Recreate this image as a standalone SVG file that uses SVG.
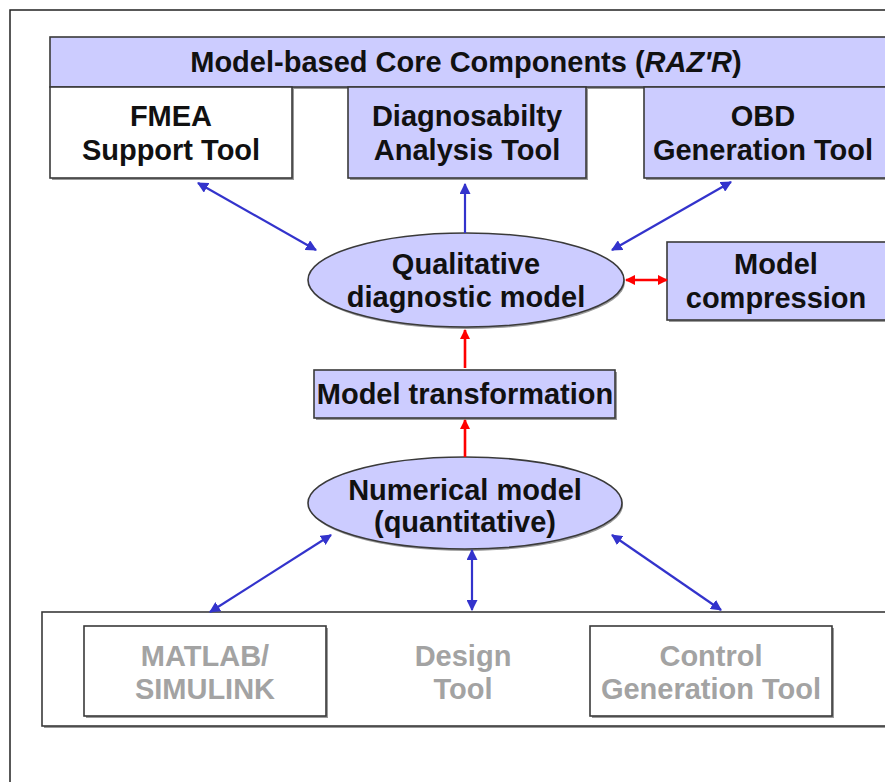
<svg xmlns="http://www.w3.org/2000/svg" width="885" height="782" viewBox="0 0 885 782">
  <defs>
    <style>
      .box { stroke: #3a3a3a; stroke-width: 1.6; }
      .lav { fill: #ccccff; }
      .wht { fill: #ffffff; }
      .shadow { fill: #9a9a9a; }
      .t { font-family: "Liberation Sans", Arial, sans-serif; font-weight: bold; font-size: 29px; fill: #111111; text-anchor: middle; }
      .g { fill: #a3a3a3; }
      .blue { stroke: #3333cc; stroke-width: 2.2; fill: none; }
      .red { stroke: #ff0000; stroke-width: 2.6; fill: none; }
    </style>
    <marker id="hb" viewBox="0 0 10 10" refX="9" refY="5" markerWidth="5" markerHeight="5" orient="auto-start-reverse" markerUnits="strokeWidth">
      <path d="M0,0 L10,5 L0,10 z" fill="#3333cc"/>
    </marker>
    <marker id="hr" viewBox="0 0 10 10" refX="9" refY="5" markerWidth="4" markerHeight="4" orient="auto-start-reverse" markerUnits="strokeWidth">
      <path d="M0,0 L10,5 L0,10 z" fill="#ff0000"/>
    </marker>
  </defs>

  <rect x="0" y="0" width="885" height="782" fill="#ffffff"/>
  <!-- outer frame -->
  <rect x="10" y="10" width="890" height="790" fill="none" stroke="#222222" stroke-width="1.5"/>

  <!-- top bar: core components -->
  <g id="core">
    <rect class="shadow" x="52" y="39" width="840" height="50"/>
    <rect class="box lav" x="50" y="37" width="840" height="50"/>
    <text class="t" x="466" y="72">Model-based Core Components (<tspan font-style="italic">RAZ'R</tspan>)</text>
  </g>

  <g id="fmea">
    <rect class="shadow" x="52" y="89" width="242" height="91"/>
    <rect class="box wht" x="50" y="87" width="242" height="91"/>
    <text class="t" x="171" y="126">FMEA</text>
    <text class="t" x="171" y="160">Support Tool</text>
  </g>

  <g id="diag">
    <rect class="shadow" x="350" y="89" width="238" height="91"/>
    <rect class="box lav" x="348" y="87" width="238" height="91"/>
    <text class="t" x="467" y="126">Diagnosabilty</text>
    <text class="t" x="467" y="160">Analysis Tool</text>
  </g>

  <g id="obd">
    <rect class="shadow" x="646" y="89" width="250" height="91"/>
    <rect class="box lav" x="644" y="87" width="250" height="91"/>
    <text class="t" x="763" y="126">OBD</text>
    <text class="t" x="763" y="160">Generation Tool</text>
  </g>

  <g id="qualitative">
    <ellipse class="shadow" cx="467" cy="282" rx="158" ry="47"/>
    <ellipse class="box lav" cx="466" cy="280" rx="158" ry="47"/>
    <text class="t" x="466" y="274">Qualitative</text>
    <text class="t" x="466" y="307">diagnostic model</text>
  </g>

  <g id="compression">
    <rect class="shadow" x="669" y="244" width="230" height="78"/>
    <rect class="box lav" x="667" y="242" width="230" height="78"/>
    <text class="t" x="776" y="274">Model</text>
    <text class="t" x="776" y="308">compression</text>
  </g>

  <g id="transformation">
    <rect class="shadow" x="316" y="372" width="301" height="48"/>
    <rect class="box lav" x="314" y="370" width="301" height="48"/>
    <text class="t" x="465" y="404">Model transformation</text>
  </g>

  <g id="numerical">
    <ellipse class="shadow" cx="466" cy="505" rx="157" ry="46"/>
    <ellipse class="box lav" cx="465" cy="503" rx="157" ry="46"/>
    <text class="t" x="465" y="500">Numerical model</text>
    <text class="t" x="465" y="532">(quantitative)</text>
  </g>

  <g id="tools">
    <rect class="shadow" x="44" y="614" width="850" height="114"/>
    <rect class="box wht" x="42" y="612" width="850" height="114"/>
    <g id="matlab">
      <rect class="shadow" x="86" y="628" width="242" height="90"/>
      <rect class="box wht" x="84" y="626" width="242" height="90"/>
      <text class="t g" x="205" y="666">MATLAB/</text>
      <text class="t g" x="205" y="699">SIMULINK</text>
    </g>
    <g id="design">
      <text class="t g" x="463" y="666">Design</text>
      <text class="t g" x="463" y="699">Tool</text>
    </g>
    <g id="control">
      <rect class="shadow" x="592" y="628" width="242" height="90"/>
      <rect class="box wht" x="590" y="626" width="242" height="90"/>
      <text class="t g" x="711" y="666">Control</text>
      <text class="t g" x="711" y="699">Generation Tool</text>
    </g>
  </g>

  <!-- connectors -->
  <g id="connectors">
    <line class="blue" x1="198" y1="183" x2="316" y2="250" marker-start="url(#hb)" marker-end="url(#hb)"/>
    <line class="blue" x1="465" y1="233" x2="465" y2="184" marker-end="url(#hb)"/>
    <line class="blue" x1="731" y1="182" x2="612" y2="250" marker-start="url(#hb)" marker-end="url(#hb)"/>
    <line class="red" x1="626" y1="280" x2="667" y2="280" marker-start="url(#hr)" marker-end="url(#hr)"/>
    <line class="red" x1="465" y1="368" x2="465" y2="330" marker-end="url(#hr)"/>
    <line class="red" x1="465" y1="457" x2="465" y2="420" stroke-width="3" marker-end="url(#hr)"/>
    <line class="blue" x1="331" y1="535" x2="210" y2="612" marker-start="url(#hb)" marker-end="url(#hb)"/>
    <line class="blue" x1="472" y1="550" x2="472" y2="610" marker-start="url(#hb)" marker-end="url(#hb)"/>
    <line class="blue" x1="612" y1="535" x2="721" y2="610" marker-start="url(#hb)" marker-end="url(#hb)"/>
  </g>
</svg>
